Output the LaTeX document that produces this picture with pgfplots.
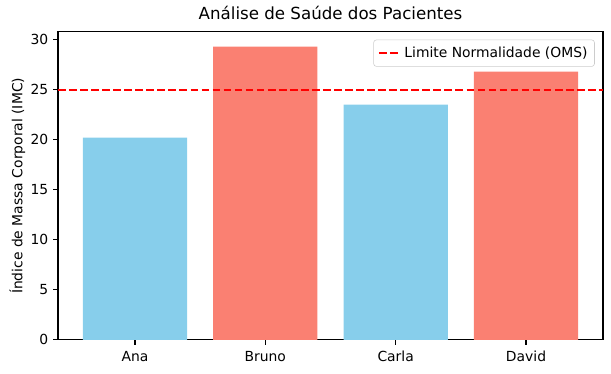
\documentclass[border=0pt]{standalone}
\usepackage{pgfplots}
\pgfplotsset{compat=1.18}
\usepackage{fontspec}
\setmainfont{DejaVu Sans}
\definecolor{skyblue}{RGB}{135,206,235}
\definecolor{salmon}{RGB}{250,128,114}
\begin{document}
\begin{tikzpicture}
\path[use as bounding box] (-41.8pt,-24.5pt) rectangle (398.2pt,244.8pt);
\begin{axis}[
  at={(0,0)}, anchor=south west,
  scale only axis, width=392.4pt, height=221.8pt,
  xmin=-0.59, xmax=3.59, ymin=0, ymax=30.77,
  xtick={0,1,2,3}, xticklabels={Ana,Bruno,Carla,David},
  ytick={0,5,10,15,20,25,30},
  tick align=outside, major tick length=3.5pt,
  xtick pos=bottom, ytick pos=left,
  tick style={black, line width=0.8pt},
  axis line style={line width=0.8pt},
  /pgf/number format/assume math mode=true,
  ticklabel style={font=\fontsize{10}{12}\selectfont},
  xticklabel style={yshift=-1pt},
  title={Análise de Saúde dos Pacientes},
  title style={font=\fontsize{12}{14}\selectfont, yshift=-1pt},
  ylabel={Índice de Massa Corporal (IMC)},
  ylabel style={font=\fontsize{10}{12}\selectfont},
  ylabel shift=-3pt,
  legend style={at={(0.985,0.975)}, anchor=north east, font=\fontsize{10}{12}\selectfont,
    draw=black!20, rounded corners=2pt, inner sep=3pt},
  legend cell align=left,
  legend image code/.code={\draw[#1] (0cm,0cm) -- (0.55cm,0cm);},
]
\addplot[ybar, bar width=0.8, bar shift=0pt, fill=skyblue, draw=none, forget plot]
  coordinates {(0,20.2) (2,23.5)};
\addplot[ybar, bar width=0.8, bar shift=0pt, fill=salmon, draw=none, forget plot]
  coordinates {(1,29.3) (3,26.8)};
\addplot[red, line width=1.5pt, dash pattern=on 5.55pt off 2.4pt]
  coordinates {(-0.59,25) (3.59,25)};
\addlegendentry{Limite Normalidade (OMS)}
\end{axis}
\end{tikzpicture}
\end{document}
